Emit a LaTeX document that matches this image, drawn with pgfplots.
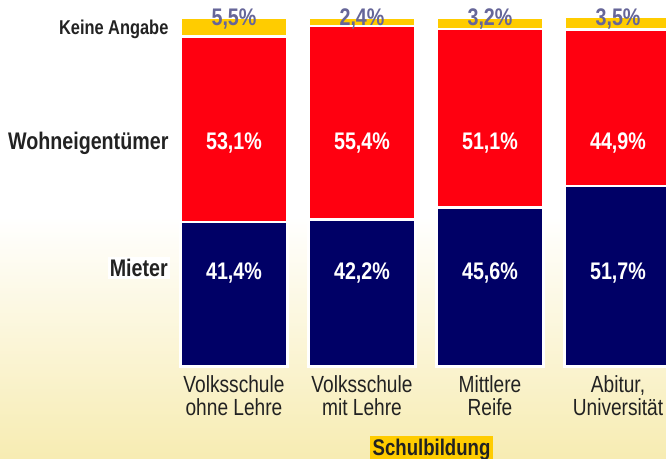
\documentclass[border=0pt]{standalone}
\usepackage{fontspec}
\setmainfont{Liberation Sans}[FakeStretch=0.82]
\usepackage{pgfplots}
\pgfplotsset{compat=1.18}
\definecolor{navyc}{HTML}{000066}
\definecolor{redc}{HTML}{FF0010}
\definecolor{yellowc}{HTML}{FFCC00}
\definecolor{toplab}{HTML}{666699}
\definecolor{bgyellow}{HTML}{F7ECB2}
\definecolor{txt}{HTML}{222222}
\tikzset{vlab/.style={anchor=base, font={\fontsize{18}{18}\selectfont\bfseries}}}
\begin{document}
\begin{tikzpicture}
\useasboundingbox (0,0) rectangle (499.5pt,344.25pt);
\clip (0,0) rectangle (499.5pt,344.25pt);
\fill[white] (0,0) rectangle (499.5pt,344.25pt);
\shade[top color=white, bottom color=bgyellow] (0,0) rectangle (499.5pt,181.5pt);
\begin{axis}[
  at={(127.5pt,69.375pt)}, anchor=south west,
  x=96pt, y=2.6175pt,
  xmin=-0.5, xmax=3.5, ymin=0, ymax=100,
  axis line style={draw=none},
  tick style={draw=none},
  ytick=\empty,
  ybar stacked, bar width=80pt,
  xtick={0,1,2,3},
  xticklabels={{Volksschule\\ohne Lehre},{Volksschule\\mit Lehre},{Mittlere\\Reife},{Abitur,\\Universität}},
  xticklabel style={align=center, text=txt, font={\fontsize{17.5}{17.25}\selectfont}, anchor=north, inner sep=0pt, yshift=-6.4pt},
  clip=false,
]
\addplot[fill=navyc, draw=white, line width=2pt] coordinates {(0,41.4) (1,42.2) (2,45.6) (3,51.7)};
\addplot[fill=redc, draw=white, line width=2pt] coordinates {(0,53.1) (1,55.4) (2,51.1) (3,44.9)};
\addplot[fill=yellowc, draw=white, line width=2pt] coordinates {(0,5.5) (1,2.4) (2,3.2) (3,3.5)};

\coordinate (m0) at (axis cs:0,25.0);
\coordinate (m1) at (axis cs:1,25.0);
\coordinate (m2) at (axis cs:2,25.0);
\coordinate (m3) at (axis cs:3,25.0);
\coordinate (w0) at (axis cs:0,62.2);
\coordinate (w1) at (axis cs:1,62.2);
\coordinate (w2) at (axis cs:2,62.2);
\coordinate (w3) at (axis cs:3,62.2);
\coordinate (k0) at (axis cs:0,97.6);
\coordinate (k1) at (axis cs:1,97.6);
\coordinate (k2) at (axis cs:2,97.6);
\coordinate (k3) at (axis cs:3,97.6);
\coordinate (lk) at (axis cs:-0.5,95.0);
\coordinate (lw) at (axis cs:-0.5,62.2);
\coordinate (lm) at (axis cs:-0.5,25.7);
\coordinate (xl) at (axis cs:1.543,-25.4);
\end{axis}
\node[vlab, text=white] at (m0) {41,4\%};
\node[vlab, text=white] at (m1) {42,2\%};
\node[vlab, text=white] at (m2) {45,6\%};
\node[vlab, text=white] at (m3) {51,7\%};
\node[vlab, text=white] at (w0) {53,1\%};
\node[vlab, text=white] at (w1) {55,4\%};
\node[vlab, text=white] at (w2) {51,1\%};
\node[vlab, text=white] at (w3) {44,9\%};
\node[vlab, text=toplab] at (k0) {5,5\%};
\node[vlab, text=toplab] at (k1) {2,4\%};
\node[vlab, text=toplab] at (k2) {3,2\%};
\node[vlab, text=toplab] at (k3) {3,5\%};
\node[anchor=base east, inner sep=1pt, fill=white, text=txt, font={\fontsize{15}{15}\selectfont\bfseries}] at (lk) {Keine Angabe};
\node[anchor=base east, inner sep=1pt, fill=white, text=txt, font={\fontsize{18}{18}\selectfont\bfseries}] at (lw) {Wohneigentümer};
\node[anchor=base east, inner sep=1.5pt, fill=white, text=txt, font={\fontsize{18}{18}\selectfont\bfseries}] at (lm) {Mieter};
\node[anchor=base, fill=yellowc, inner sep=2pt, text=txt, font={\fontsize{17}{17}\selectfont\bfseries}] at (xl) {Schulbildung};
\end{tikzpicture}
\end{document}
